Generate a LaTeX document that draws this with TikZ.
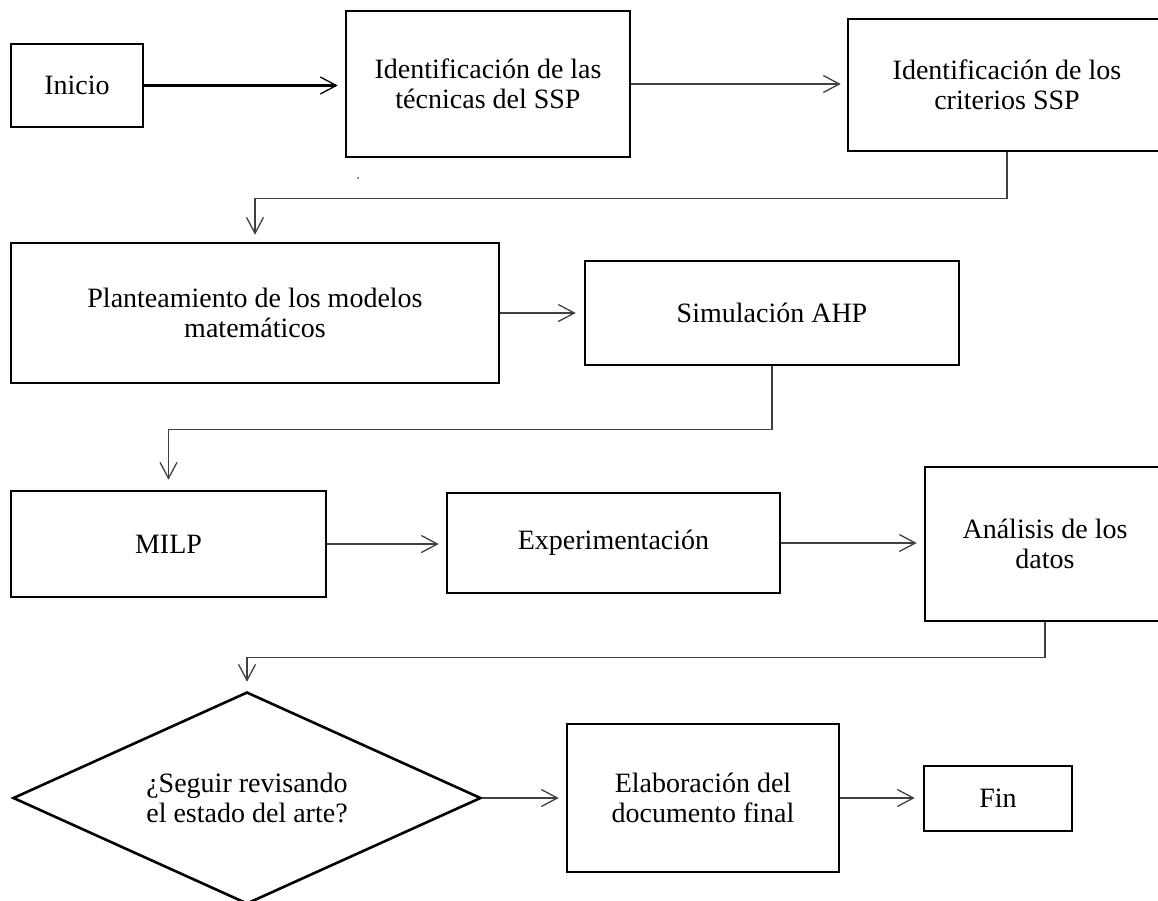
\documentclass[tikz,border=0pt]{standalone}
\usepackage{fontspec}
\setmainfont{Liberation Serif}
\usetikzlibrary{arrows.meta,shapes.geometric}
\tikzset{
  box/.style={draw=black, line width=2.6pt, align=center, inner sep=0pt,
    font=\fontsize{28}{30}\selectfont, text=black},
  decision/.style={diamond, aspect=2.2, draw=black, line width=2.6pt, align=center, inner sep=0pt,
    font=\fontsize{28}{30}\selectfont, text=black},
  conn/.style={draw=black!75, line width=1.3pt,
    -{Straight Barb[length=16pt,width=17pt]}},
  thickconn/.style={draw=black, line width=2.4pt,
    -{Straight Barb[length=16pt,width=17pt,line width=1.3pt]}}
}
\begin{document}
\begin{tikzpicture}[x=1pt,y=-1pt]
\useasboundingbox (0,0) rectangle (1158,900);
\fill[white] (0,0) rectangle (1158,900);

\node[box, minimum width=132pt, minimum height=83pt] (inicio) at (77,85.5) {Inicio};
\node[box, minimum width=284pt, minimum height=146pt] (tec) at (488,84) {Identificación de las\\técnicas del SSP};
\node[box, minimum width=318pt, minimum height=132pt] (crit) at (1007,85) {Identificación de los\\criterios SSP};

\node[box, minimum width=488pt, minimum height=140pt] (plan) at (255,313) {Planteamiento de los modelos\\matemáticos};
\node[box, minimum width=374pt, minimum height=104pt] (simu) at (772,313) {Simulación AHP};

\node[box, minimum width=315pt, minimum height=106pt] (milp) at (168.5,544) {MILP};
\node[box, minimum width=333pt, minimum height=100pt] (expe) at (613.5,543) {Experimentación};
\node[box, minimum width=240pt, minimum height=154pt] (anal) at (1045,544) {Análisis de los\\datos};

\node[decision, minimum width=468pt, minimum height=212pt] (dec) at (247,798) {¿Seguir revisando\\el estado del arte?};
\node[box, minimum width=272pt, minimum height=148pt] (elab) at (703,798) {Elaboración del\\documento final};
\node[box, minimum width=148pt, minimum height=65pt] (fin) at (998,798.5) {Fin};

\fill[black!70] (358,178) circle (1pt);

\draw[thickconn, shorten >=7pt] (inicio.east) -- (inicio.east -| tec.west);
\draw[conn, shorten >=6pt] (tec.east) -- (tec.east -| crit.west);
\draw[conn, shorten >=7pt] (crit.south) -- ++(0,46) -| (plan.north);
\draw[conn, shorten >=8pt] (plan.east) -- (simu.west);
\draw[conn, shorten >=10pt] (simu.south) -- ++(0,63) -| (milp.north);
\draw[conn, shorten >=7pt] (milp.east) -- (milp.east -| expe.west);
\draw[conn, shorten >=7pt] (expe.east) -- (expe.east -| anal.west);
\draw[conn, shorten >=9pt] (anal.south) -- ++(0,35) -| (dec.north);
\draw[conn, shorten >=7pt] (dec.east) -- (elab.west);
\draw[conn, shorten >=8pt] (elab.east) -- (elab.east -| fin.west);
\end{tikzpicture}
\end{document}
